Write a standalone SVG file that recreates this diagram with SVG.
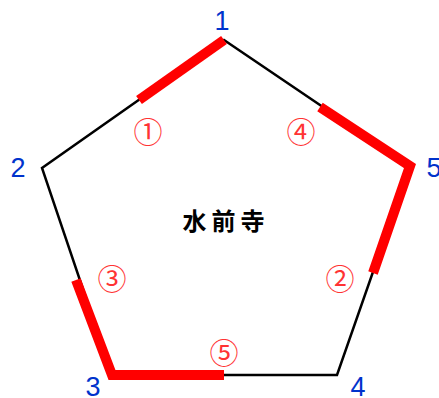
<svg xmlns="http://www.w3.org/2000/svg" width="439" height="398" viewBox="0 0 439 398">
<style>
.edge{fill:none;stroke:#000;stroke-width:2.5;stroke-linejoin:miter}
.red{fill:none;stroke:#ff0000;stroke-width:10;stroke-linecap:butt;stroke-linejoin:miter;stroke-miterlimit:10}
.vl{font-family:"Liberation Sans",Arial,sans-serif;font-size:27px;fill:#0033cc;text-anchor:middle}
.cl{font-family:"Noto Sans CJK JP","Noto Sans CJK SC",sans-serif;font-size:29px;fill:#ff3333;text-anchor:middle;dominant-baseline:central}
.title{font-family:"Noto Sans CJK JP","Noto Sans CJK SC",sans-serif;font-size:24px;font-weight:bold;fill:#000;text-anchor:middle;letter-spacing:5px}
</style>
<rect width="439" height="398" fill="#fff"/>
<g id="connectors">
<polygon class="edge" points="224,40 410,166 337,375 112,375 42,168"/>
<line class="red" x1="224" y1="40" x2="139" y2="100"/>
<polyline class="red" points="320,107 410,166 373,273"/>
<polyline class="red" points="76,280 112,375 224,375"/>
</g>
<g id="node1"><text class="vl" x="222" y="30">1</text></g>
<g id="node2"><text class="vl" x="18" y="177">2</text></g>
<g id="node3"><text class="vl" x="93" y="396">3</text></g>
<g id="node4"><text class="vl" x="358" y="396">4</text></g>
<g id="node5"><text class="vl" x="434" y="177">5</text></g>
<g id="labels">
<text class="cl" x="148" y="130">①</text>
<text class="cl" x="340" y="277">②</text>
<text class="cl" x="112" y="277">③</text>
<text class="cl" x="301" y="130">④</text>
<text class="cl" x="224" y="351">⑤</text>
</g>
<g id="center"><text class="title" x="226" y="230">水前寺</text></g>
</svg>
